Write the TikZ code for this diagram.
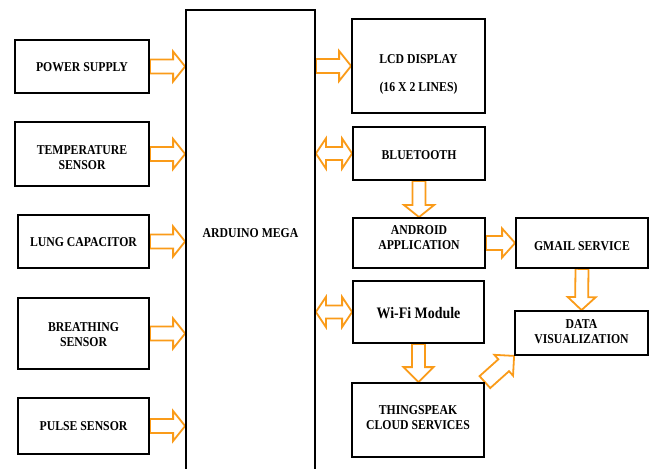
\documentclass[tikz,border=0pt]{standalone}
\usepackage{fontspec}
\setmainfont{Liberation Serif}[FakeStretch=0.87]
\usetikzlibrary{calc}
\pgfdeclarelayer{background}
\pgfsetlayers{background,main}
\definecolor{arrowor}{RGB}{250,155,25}
\newcommand\boxtext[2]{\raisebox{#1}[\height][\depth]{\begin{tabular}{@{}c@{}}#2\end{tabular}}}
\newcommand\linetext[2]{\raisebox{#1}[\height][\depth]{#2}}
% single block arrow: from #1 to #2, shaft half-width #3, head half-width #4, head length #5
\newcommand\SingleArrow[5]{%
  \coordinate (ahb) at ($(#2)!#5!(#1)$);
  \draw[flow] ($(#1)!#3!90:(#2)$) -- ($(ahb)!#3!90:(#2)$) -- ($(ahb)!#4!90:(#2)$) -- (#2)
    -- ($(ahb)!#4!-90:(#2)$) -- ($(ahb)!#3!-90:(#2)$) -- ($(#1)!#3!-90:(#2)$) -- cycle;}
% double block arrow between #1 and #2
\newcommand\DoubleArrow[5]{%
  \coordinate (aha) at ($(#1)!#5!(#2)$);
  \coordinate (ahb) at ($(#2)!#5!(#1)$);
  \draw[flow] (#1) -- ($(aha)!#4!90:(#2)$) -- ($(aha)!#3!90:(#2)$) -- ($(ahb)!#3!90:(#2)$)
    -- ($(ahb)!#4!90:(#2)$) -- (#2) -- ($(ahb)!#4!-90:(#2)$) -- ($(ahb)!#3!-90:(#2)$)
    -- ($(aha)!#3!-90:(#2)$) -- ($(aha)!#4!-90:(#2)$) -- cycle;}
\begin{document}
\begin{tikzpicture}[x=1bp,y=-1bp,
  blk/.style={draw=black, line width=1.8bp, inner sep=0pt, align=center,
    font=\fontsize{13.5bp}{15bp}\selectfont\bfseries},
  flow/.style={draw=arrowor, fill=white, line width=1.8bp, line join=miter}]
\useasboundingbox (0,0) rectangle (652,469);
\clip (0,0) rectangle (652,469);
% left column
\node[blk, minimum width=134bp, minimum height=53bp] (pw)  at (82,66.5) {\linetext{-1bp}{POWER SUPPLY}};
\node[blk, minimum width=134bp, minimum height=64bp] (tmp) at (82,154) {\boxtext{-5bp}{TEMPERATURE\\SENSOR}};
\node[blk, minimum width=131bp, minimum height=53bp] (lung) at (83.5,241.5) {\linetext{-1bp}{LUNG CAPACITOR}};
\node[blk, minimum width=131bp, minimum height=71bp] (br)  at (83.5,333.5) {\boxtext{-2bp}{BREATHING\\SENSOR}};
\node[blk, minimum width=131bp, minimum height=56bp] (pul) at (83.5,426) {PULSE SENSOR};
% controller
\node[blk, minimum width=129bp, minimum height=470bp] (ard) at (250.5,245) {\linetext{12bp}{ARDUINO MEGA}};
% right column
\node[blk, minimum width=133bp, minimum height=94bp] (lcd) at (418.5,66) {\boxtext{-8.5bp}{LCD DISPLAY\\[13bp](16 X 2 LINES)}};
\node[blk, minimum width=132bp, minimum height=53bp] (bt)  at (419,153.5) {\linetext{-2bp}{BLUETOOTH}};
\node[blk, minimum width=132bp, minimum height=50bp] (and) at (419,243) {\boxtext{3.5bp}{ANDROID\\APPLICATION}};
\node[blk, minimum width=132bp, minimum height=50bp] (gm)  at (582,243) {\linetext{-3.5bp}{GMAIL SERVICE}};
\node[blk, minimum width=133bp, minimum height=44bp] (dv)  at (581.5,333) {\boxtext{0bp}{DATA\\VISUALIZATION}};
\node[blk, minimum width=131bp, minimum height=62bp, font=\fontsize{16bp}{18bp}\selectfont\bfseries] (wifi) at (418.5,312) {\linetext{-1bp}{Wi-Fi Module}};
\node[blk, minimum width=132bp, minimum height=74bp] (ts)  at (418,420) {\boxtext{1bp}{THINGSPEAK\\CLOUD SERVICES}};
% arrows
\begin{pgfonlayer}{background}
\foreach \n in {pw,tmp,lung,br,pul}{
  \coordinate (s-\n) at (\n.east);
  \coordinate (e-\n) at (\n.east -| ard.west);
  \SingleArrow{s-\n}{e-\n}{7bp}{15bp}{12bp}
}
\coordinate (s-lcd) at (lcd.west -| ard.east);
\SingleArrow{s-lcd}{lcd.west}{7bp}{15bp}{12bp}
\coordinate (s-bt) at (bt.west -| ard.east);
\DoubleArrow{s-bt}{bt.west}{6.5bp}{15bp}{10bp}
\coordinate (s-wifi) at (wifi.west -| ard.east);
\DoubleArrow{s-wifi}{wifi.west}{6.5bp}{15bp}{10bp}
\SingleArrow{bt.south}{and.north}{6.5bp}{15bp}{12bp}
\SingleArrow{and.east}{gm.west}{7bp}{14.5bp}{13bp}
\SingleArrow{gm.south}{dv.north}{6.5bp}{14bp}{13bp}
\coordinate (e-wifi) at (wifi.south |- ts.north);
\SingleArrow{wifi.south}{e-wifi}{6.5bp}{15bp}{15bp}
\SingleArrow{ts.north east}{dv.south west}{8bp}{14bp}{14bp}
\end{pgfonlayer}
\end{tikzpicture}
\end{document}
